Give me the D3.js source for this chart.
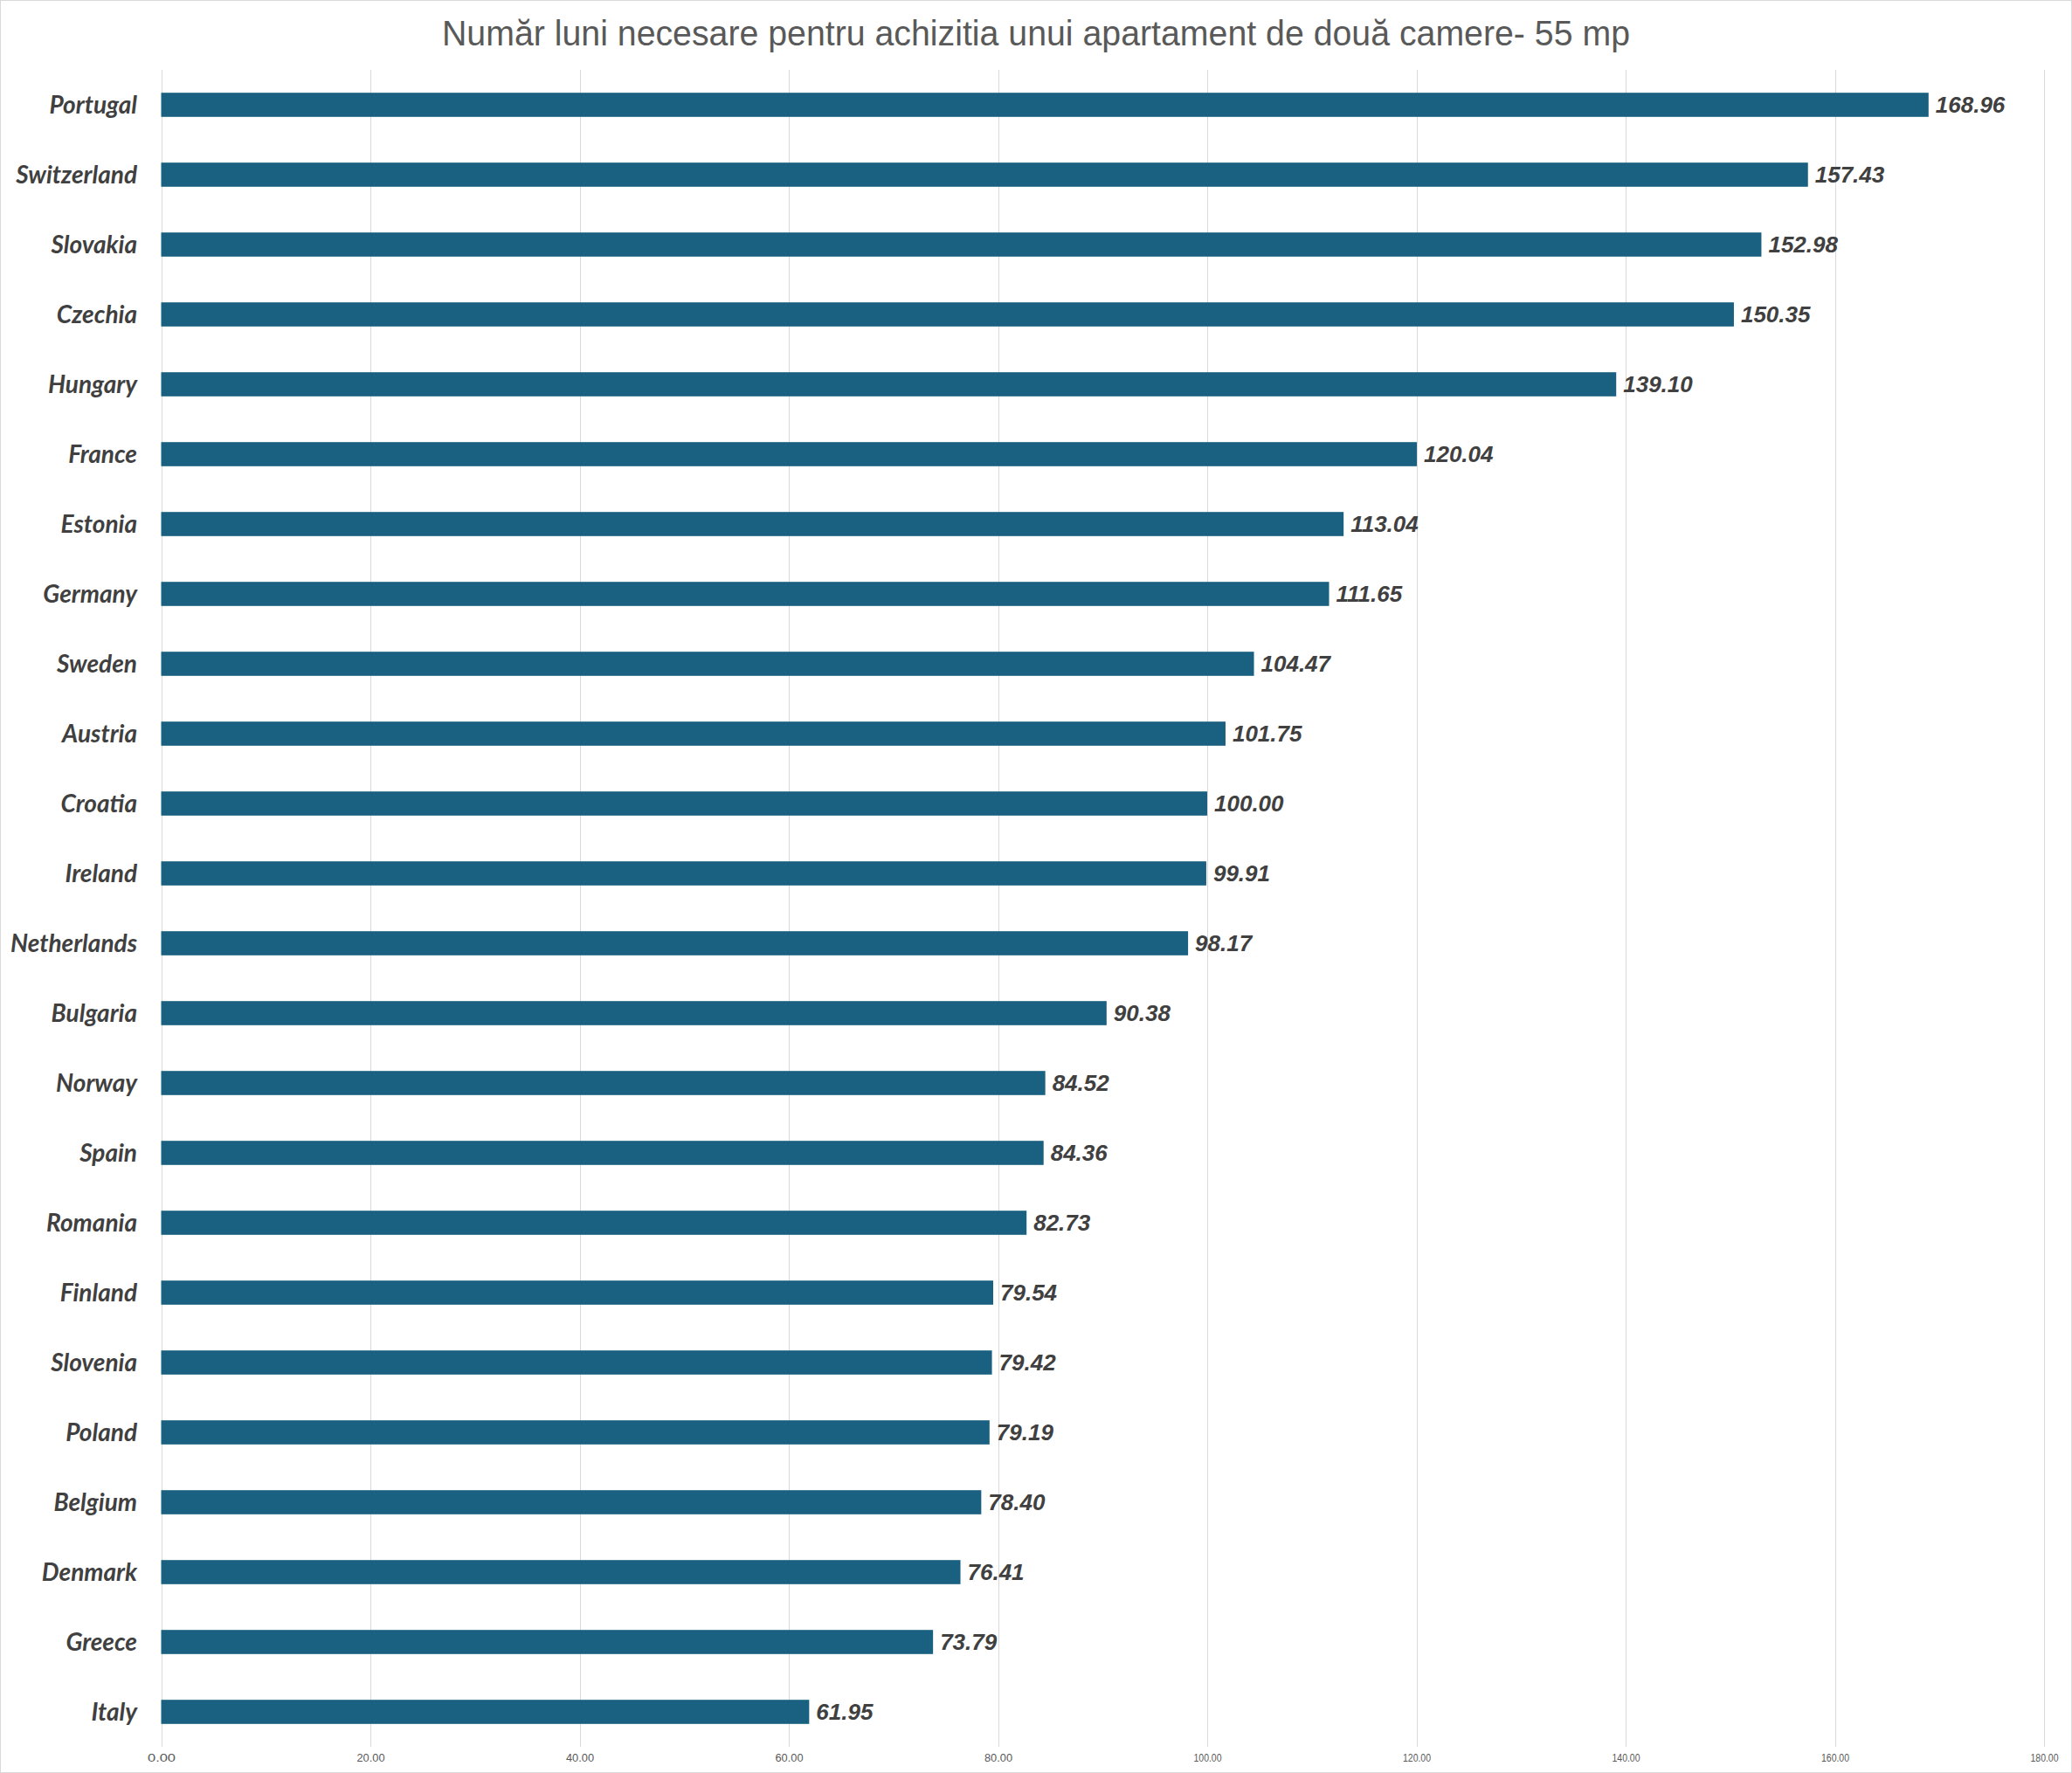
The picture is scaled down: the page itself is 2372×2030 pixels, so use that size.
<!DOCTYPE html>
<html>
<head>
<meta charset="utf-8">
<script src="https://cdn.jsdelivr.net/npm/d3@7"></script>
<style>
  html, body { margin: 0; padding: 0; background: #fff; }
  svg { display: block; }
</style>
</head>
<body>
<svg id="chart" width="2372" height="2030"></svg>
<script>
const titleText = "Număr luni necesare pentru achizitia unui apartament de două camere- 55 mp";
const countries = ["Portugal","Switzerland","Slovakia","Czechia","Hungary","France","Estonia","Germany","Sweden","Austria","Croatia","Ireland","Netherlands","Bulgaria","Norway","Spain","Romania","Finland","Slovenia","Poland","Belgium","Denmark","Greece","Italy"];
const months = [168.96,157.43,152.98,150.35,139.10,120.04,113.04,111.65,104.47,101.75,100.00,99.91,98.17,90.38,84.52,84.36,82.73,79.54,79.42,79.19,78.40,76.41,73.79,61.95];
const tickValues = [0,20,40,60,80,100,120,140,160,180];

const W = 2372, H = 2030;
const svg = d3.select("#chart");

// border
svg.append("rect").attr("x",0.5).attr("y",0.5).attr("width",W-1).attr("height",H-1)
  .attr("fill","#fff").attr("stroke","#d9d9d9").attr("stroke-width",1);

const x = d3.scaleLinear().domain([0,180]).range([184.5, 2340]);
const y = d3.scaleBand().domain(countries).range([80, 2000]).paddingInner(0.655).paddingOuter(0.3275);

// gridlines
svg.append("g").selectAll("line").data(tickValues).join("line")
  .attr("x1", d => Math.round(x(d)) + 0.5).attr("x2", d => Math.round(x(d)) + 0.5)
  .attr("y1", 80).attr("y2", 2000)
  .attr("stroke", "#d9d9d9").attr("stroke-width", 1);

// x axis tick labels
const axis = d3.axisBottom(x).tickValues(tickValues).tickFormat(d3.format(".2f")).tickSize(0).tickPadding(0);
const gx = svg.append("g").attr("transform","translate(0,2008)").call(axis);
gx.select(".domain").remove();
gx.selectAll("text")
  .attr("font-family","'Liberation Sans', Arial, sans-serif")
  .attr("font-size", 12).attr("fill","#595959").attr("dy","0.71em")
  .attr("textLength", 32).attr("lengthAdjust","spacingAndGlyphs");

// bars
svg.append("g").selectAll("rect").data(countries).join("rect")
  .attr("x", x(0)).attr("y", d => y(d))
  .attr("width", (d,i) => x(months[i]) - x(0))
  .attr("height", y.bandwidth())
  .attr("fill", "#1a6080");

// category labels
svg.append("g").selectAll("text").data(countries).join("text")
  .attr("x", 157).attr("y", d => y(d) + y.bandwidth()/2)
  .attr("dy","0.36em").attr("text-anchor","end")
  .attr("font-family","Lato, 'Source Sans Pro', 'Open Sans', sans-serif")
  .attr("font-weight","bold").attr("font-style","italic")
  .attr("font-size", 28).attr("fill","#404040")
  .text(d => d);

// value labels
svg.append("g").selectAll("text").data(countries).join("text")
  .attr("x", (d,i) => x(months[i]) + 8).attr("y", d => y(d) + y.bandwidth()/2)
  .attr("dy","0.36em")
  .attr("font-family","'Liberation Sans', Arial, sans-serif")
  .attr("font-weight","bold").attr("font-style","italic")
  .attr("font-size", 26).attr("fill","#404040")
  .text((d,i) => d3.format(".2f")(months[i]));

// title
svg.append("text").attr("x", 1186).attr("y", 52).attr("text-anchor","middle")
  .attr("font-family","'Liberation Sans', Arial, sans-serif")
  .attr("font-size", 40).attr("fill","#595959")
  .attr("textLength", 1360).attr("lengthAdjust","spacingAndGlyphs")
  .text(titleText);
</script>
</body>
</html>
